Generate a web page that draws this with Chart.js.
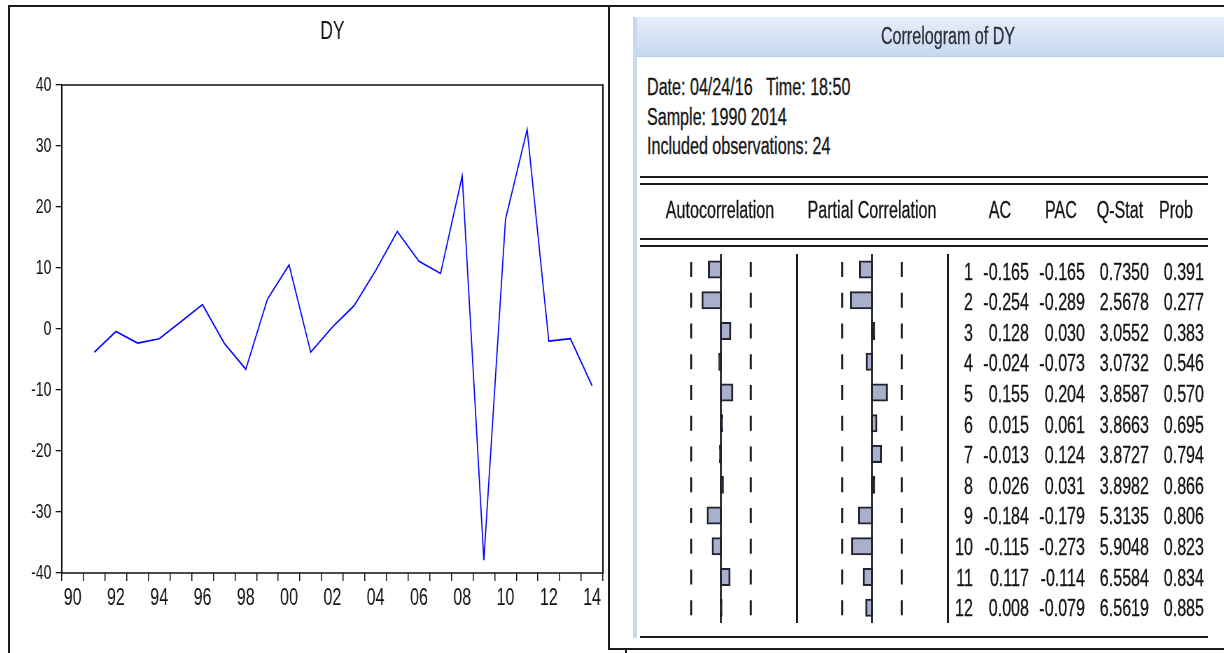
<!DOCTYPE html>
<html>
<head>
<meta charset="utf-8">
<title>DY</title>
<script src="https://cdn.jsdelivr.net/npm/chart.js@4.4.1/dist/chart.umd.min.js"></script>
<style>
  html, body { margin: 0; padding: 0; background: #fff; }
  body {
    width: 1224px; height: 653px; position: relative; overflow: hidden;
    font-family: "Liberation Sans", Arial, sans-serif; color: #111;
  }
  .rule { position: absolute; background: #1b1b1b; }
  .txt {
    position: absolute; height: 30px; line-height: 30px; font-size: 23px;
    white-space: nowrap; color: #141414; -webkit-text-stroke: 0.3px currentColor;
  }
  .l { transform: scaleX(.7); transform-origin: 0 50%; }
  .c { width: 1000px; text-align: center; transform: scaleX(.7); transform-origin: 50% 50%; }
  .r { width: 1000px; text-align: right; transform: scaleX(.7); transform-origin: 100% 50%; }
  #lineBox {
    position: absolute; left: 10px; top: 8px; width: 860px; height: 640px;
    transform: scaleX(.7); transform-origin: 0 0;
  }
  #band { position: absolute; left: 633px; top: 17px; width: 4px; height: 621px; background: #c6d9f1; }
  #head {
    position: absolute; left: 637px; top: 17px; width: 587px; height: 39px;
    background: linear-gradient(#e6eefa, #c7d8ee);
    border-bottom: 1px solid #b8cbe4;
  }
  canvas.cg { position: absolute; }
</style>
</head>
<body>

<div id="lineBox"><canvas id="dyChart" width="860" height="640"></canvas></div>

<div id="band"></div>
<div id="head"></div>

<canvas id="acChart" class="cg" width="146" height="369" style="left:648px;top:254px"></canvas>
<canvas id="pacChart" class="cg" width="146" height="369" style="left:799px;top:254px"></canvas>

<div id="overlay"></div>

<script>
// ---- DY series, sample 1990-2014 (first difference, so 1990 is empty) ----
const years = [1990, 1991, 1992, 1993, 1994, 1995, 1996, 1997, 1998, 1999, 2000, 2001,
               2002, 2003, 2004, 2005, 2006, 2007, 2008, 2009, 2010, 2011, 2012, 2013, 2014];
const dy = [null, -3.8, -0.4, -2.3, -1.6, 1.2, 4.0, -2.3, -6.6, 4.9, 10.5, -3.8,
            0.3, 3.8, 9.6, 16.0, 11.1, 9.1, 25.1, -37.9, 18.0, 32.7, -2.0, -1.6, -9.3];
const yTicks = { min: -40, max: 40, step: 10 };

// ---- Correlogram of DY ----
const observations = 24;
const lags  = [1, 2, 3, 4, 5, 6, 7, 8, 9, 10, 11, 12];
const ac    = [-0.165, -0.254, 0.128, -0.024, 0.155, 0.015, -0.013, 0.026, -0.184, -0.115, 0.117, 0.008];
const pac   = [-0.165, -0.289, 0.030, -0.073, 0.204, 0.061, 0.124, 0.031, -0.179, -0.273, -0.114, -0.079];
const qStat = [0.7350, 2.5678, 3.0552, 3.0732, 3.8587, 3.8663, 3.8727, 3.8982, 5.3135, 5.9048, 6.5584, 6.5619];
const prob  = [0.391, 0.277, 0.383, 0.546, 0.570, 0.695, 0.794, 0.866, 0.806, 0.823, 0.834, 0.885];

const infoLines = ['Date: 04/24/16\u00a0\u00a0\u00a0Time: 18:50', 'Sample: 1990 2014',
                   'Included observations: ' + observations];
const columnHeads = ['Autocorrelation', 'Partial Correlation', 'AC', 'PAC', 'Q-Stat', 'Prob'];

Chart.defaults.font.family = "'Liberation Sans', Arial, sans-serif";
Chart.defaults.color = '#111';

// ---------- left panel: line chart ----------
const plotFrame = {
  id: 'plotFrame',
  afterDatasetsDraw(chart) {
    const { ctx, chartArea: a } = chart;
    ctx.save();
    ctx.strokeStyle = '#111';
    ctx.lineWidth = 1.5;
    ctx.beginPath();
    ctx.moveTo(a.left, a.top); ctx.lineTo(a.right, a.top);
    ctx.moveTo(a.left, a.bottom); ctx.lineTo(a.right, a.bottom);
    ctx.stroke();
    ctx.lineWidth = 2.1;
    ctx.beginPath();
    ctx.moveTo(a.left, a.top - 0.75); ctx.lineTo(a.left, a.bottom + 0.75);
    ctx.moveTo(a.right, a.top - 0.75); ctx.lineTo(a.right, a.bottom + 0.75);
    ctx.stroke();
    ctx.restore();
  }
};

new Chart(document.getElementById('dyChart'), {
  type: 'line',
  data: {
    labels: years.map(String),
    datasets: [{
      data: dy, borderColor: '#0000ff', borderWidth: 1.7,
      pointRadius: 0, tension: 0, fill: false
    }]
  },
  options: {
    responsive: false, animation: false, devicePixelRatio: 1,
    layout: { padding: { left: 0, right: 13, top: 0, bottom: 35 } },
    plugins: {
      legend: { display: false },
      tooltip: { enabled: false },
      title: {
        display: true, text: 'DY', fullSize: false, color: '#111',
        font: { size: 25, weight: 'normal' },
        padding: { top: 9.5, bottom: 37.5 }
      }
    },
    scales: {
      x: {
        type: 'category', offset: true,
        grid: { offset: true, drawOnChartArea: false, drawTicks: true, tickLength: 8, color: '#111', lineWidth: 1.5 },
        border: { display: false },
        ticks: {
          autoSkip: false, maxRotation: 0, minRotation: 0, padding: 4, color: '#111',
          font: { size: 23 },
          callback: (v, i) => (years[i] % 2 === 0 ? String(years[i]).slice(2) : '')
        },
        afterFit: s => { s.height = 40; }
      },
      y: {
        min: yTicks.min, max: yTicks.max,
        ticks: { stepSize: yTicks.step, padding: 6.3, color: '#111', font: { size: 20 } },
        grid: { drawOnChartArea: false, drawTicks: true, tickLength: 8.6, color: '#111', lineWidth: 1.3 },
        border: { display: false },
        afterFit: s => { s.width = 74; }
      }
    }
  },
  plugins: [plotFrame]
});

// ---------- right panel: correlogram bars ----------
const bound = 2 / Math.sqrt(observations);
const barFill = '#a9b0cd', barEdge = '#22232e';

const guides = {
  id: 'guides',
  beforeDatasetsDraw(chart) {
    const { ctx } = chart;
    const xs = chart.scales.x, ys = chart.scales.y;
    ctx.save();
    ctx.strokeStyle = '#1b1b1b';
    ctx.lineWidth = 1.8;
    const x0 = xs.getPixelForValue(0);
    ctx.beginPath();
    ctx.moveTo(x0, 0); ctx.lineTo(x0, chart.height);
    ctx.stroke();
    ctx.lineWidth = 2;
    ctx.beginPath();
    lags.forEach((lag, i) => {
      const yc = ys.getPixelForValue(i);
      [-bound, bound].forEach(b => {
        const xb = xs.getPixelForValue(b);
        ctx.moveTo(xb, yc - 7.5); ctx.lineTo(xb, yc + 7.5);
      });
    });
    ctx.stroke();
    ctx.restore();
  }
};

function correlogram(id, values) {
  new Chart(document.getElementById(id), {
    type: 'bar',
    data: {
      labels: lags.map(String),
      datasets: [{
        data: values,
        // bars too narrow to show their fill are drawn as solid edges
        backgroundColor: c => {
          const xs = c.chart.scales.x;
          const w = xs ? Math.abs(xs.getPixelForValue(c.raw) - xs.getPixelForValue(0)) : 10;
          return w < 4 ? barEdge : barFill;
        },
        borderColor: barEdge,
        borderWidth: 2, borderSkipped: false, barThickness: 16, inflateAmount: 1
      }]
    },
    options: {
      indexAxis: 'y', responsive: false, animation: false, devicePixelRatio: 1,
      layout: { padding: 0 },
      plugins: { legend: { display: false }, tooltip: { enabled: false } },
      scales: {
        x: { display: false, min: -1, max: 1 },
        y: { display: false }
      }
    },
    plugins: [guides]
  });
}
correlogram('acChart', ac);
correlogram('pacChart', pac);

// ---------- frames, rules and table text ----------
const overlay = document.getElementById('overlay');

function rule(left, top, width, height) {
  const d = document.createElement('div');
  d.className = 'rule';
  Object.assign(d.style, { left: left + 'px', top: top + 'px', width: width + 'px', height: height + 'px' });
  overlay.appendChild(d);
}
function text(str, kind, x, cy, extra) {
  const d = document.createElement('div');
  d.className = 'txt ' + kind;
  d.textContent = str;
  const left = kind === 'l' ? x : kind === 'c' ? x - 500 : x - 1000;
  d.style.left = left + 'px';
  d.style.top = (cy - 15) + 'px';
  if (extra) Object.assign(d.style, extra);
  overlay.appendChild(d);
}

// outer frame
rule(8, 5, 1216, 2);
rule(8, 5, 2, 648);
rule(608, 5, 2, 645);
rule(608, 648, 616, 2);
rule(624.5, 649, 2, 4);

// table rules
rule(640, 175.5, 568, 2);
rule(640, 182.5, 568, 2);
rule(640, 237.5, 568, 2);
rule(640, 245, 568, 2);
rule(640, 636, 568, 2);
rule(796, 254, 2, 369);
rule(947, 254, 2, 369);

text('Correlogram of DY', 'c', 947.5, 35.5, { color: '#2c2f3a' });
[87, 116.5, 146].forEach((cy, i) => text(infoLines[i], 'l', 646.5, cy));

const headCenters = [719.5, 872, 1000, 1061, 1120, 1176];
columnHeads.forEach((h, i) => text(h, 'c', headCenters[i], 210));

const rightEdges = [973, 1029, 1085, 1149, 1204];
lags.forEach((lag, i) => {
  const cy = 271.5 + i * 30.6;
  const cells = [String(lag), ac[i].toFixed(3), pac[i].toFixed(3), qStat[i].toFixed(4), prob[i].toFixed(3)];
  cells.forEach((s, j) => text(s, 'r', rightEdges[j], cy));
});
</script>
</body>
</html>
